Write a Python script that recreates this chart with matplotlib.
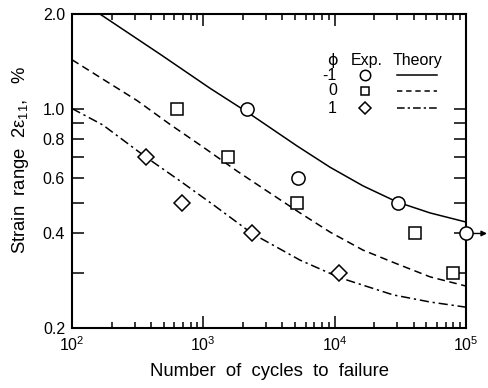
import matplotlib
matplotlib.use('Agg')
import matplotlib.pyplot as plt
from matplotlib.ticker import FixedLocator, FixedFormatter, LogLocator, LogFormatterMathtext, NullFormatter

plt.rcParams['font.family'] = ['Liberation Sans', 'DejaVu Sans']
plt.rcParams['mathtext.fontset'] = 'custom'
plt.rcParams['mathtext.rm'] = 'Liberation Sans'
plt.rcParams['mathtext.it'] = 'Liberation Sans:italic'
plt.rcParams['mathtext.default'] = 'regular'

# experiments (phi = -1, 0, 1)
n_exp_m1 = [2150, 5260, 30400, 100000]
s_exp_m1 = [1.0, 0.6, 0.5, 0.4]
n_exp_0 = [630, 1540, 5170, 40900, 79800]
s_exp_0 = [1.0, 0.7, 0.5, 0.4, 0.3]
n_exp_p1 = [366, 689, 2350, 10800]
s_exp_p1 = [0.7, 0.5, 0.4, 0.3]
runout_n, runout_s = 100000, 0.4

# theory curves
n_th_m1 = [163, 468, 1125, 2190, 5170, 9230, 16450, 29860, 53300, 100000]
s_th_m1 = [2.0, 1.49, 1.16, 0.97, 0.76, 0.65, 0.567, 0.504, 0.465, 0.435]
n_th_0 = [100, 172, 313, 558, 995, 1806, 3221, 5450, 9230, 16450, 29860, 53300, 100000]
s_th_0 = [1.43, 1.24, 1.06, 0.89, 0.754, 0.632, 0.538, 0.465, 0.404, 0.354, 0.320, 0.291, 0.272]
n_th_p1 = [100, 172, 366, 665, 1228, 2350, 5450, 10990, 27850, 53300, 100000]
s_th_p1 = [1.00, 0.886, 0.70, 0.588, 0.489, 0.40, 0.329, 0.289, 0.255, 0.242, 0.233]

y_major = [0.2, 0.4, 0.6, 0.8, 1.0, 2.0]
y_major_labels = ['0.2', '0.4', '0.6', '0.8', '1.0', '2.0']
y_minor = [0.3, 0.5, 0.7, 0.9]

fig = plt.figure(figsize=(4.88, 3.88), dpi=100)
ax = fig.add_axes([72/488, 1-328/388, 394/488, 314/388])

ax.plot(n_th_m1, s_th_m1, color='black', lw=1.1, ls='-')
ax.plot(n_th_0, s_th_0, color='black', lw=1.1, ls=(0, (5, 3)))
ax.plot(n_th_p1, s_th_p1, color='black', lw=1.1, ls=(0, (6, 2.5, 1.5, 2.5)))

mk = dict(ls='none', mfc='white', mec='black', mew=1.1, clip_on=False, zorder=5)
ax.plot(n_exp_m1, s_exp_m1, marker='o', ms=9.5, **mk)
ax.plot(n_exp_0, s_exp_0, marker='s', ms=9.3, **mk)
ax.plot(n_exp_p1, s_exp_p1, marker='D', ms=8.3, **mk)

ax.annotate('', xy=(runout_n*1.445, runout_s), xytext=(runout_n, runout_s),
            arrowprops=dict(arrowstyle='-|>', color='black', lw=1.0, shrinkA=5, shrinkB=0,
                            mutation_scale=8), annotation_clip=False, zorder=4)

ax.set_xscale('log')
ax.set_yscale('log')
ax.set_xlim(100, 100000)
ax.set_ylim(0.2, 2.0)

ax.xaxis.set_major_locator(LogLocator(base=10))
ax.xaxis.set_major_formatter(LogFormatterMathtext())
ax.xaxis.set_minor_locator(LogLocator(base=10, subs=range(2, 10)))
ax.xaxis.set_minor_formatter(NullFormatter())
ax.yaxis.set_major_locator(FixedLocator(y_major))
ax.yaxis.set_major_formatter(FixedFormatter(y_major_labels))
ax.yaxis.set_minor_locator(FixedLocator(y_minor))
ax.yaxis.set_minor_formatter(NullFormatter())

ax.tick_params(which='both', direction='in', top=True, right=True, width=1.1, labelsize=11.5)
ax.tick_params(axis='x', which='major', length=8.5, pad=5)
ax.tick_params(axis='x', which='minor', length=4)
ax.tick_params(axis='y', which='both', length=8.5, pad=5)
for sp in ax.spines.values():
    sp.set_linewidth(1.5)

ax.set_xlabel('Number  of  cycles  to  failure', fontsize=13.3, labelpad=7)
ax.set_ylabel('Strain  range  2ε$_{11}$,   %', fontsize=13.3)
ax.yaxis.set_label_coords(-0.105, 0.535)

# legend table
fs = 11.5
ax.text(0.662, 0.853, 'ϕ', transform=ax.transAxes, ha='center', va='center', fontsize=fs,
        family=['DejaVu Sans'])
ax.text(0.749, 0.853, 'Exp.', transform=ax.transAxes, ha='center', va='center', fontsize=fs)
ax.text(0.878, 0.853, 'Theory', transform=ax.transAxes, ha='center', va='center', fontsize=fs)
rows_y = [0.805, 0.755, 0.700]
row_labels = ['-1', '0', '1']
row_markers = [('o', 7.5), ('s', 6.0), ('D', 6.3)]
row_styles = ['-', (0, (3.5, 2.5)), (0, (5, 2, 1.5, 2))]
for yy, lab, (m, ms), st in zip(rows_y, row_labels, row_markers, row_styles):
    ax.text(0.672, yy, lab, transform=ax.transAxes, ha='right', va='center', fontsize=fs)
    ax.plot([0.744], [yy], transform=ax.transAxes, marker=m, ms=ms, mfc='white',
            mec='black', mew=1.1, ls='none')
    ax.plot([0.825, 0.926], [yy, yy], transform=ax.transAxes, color='black', lw=1.1, ls=st)

fig.savefig('out.png', dpi=100)
